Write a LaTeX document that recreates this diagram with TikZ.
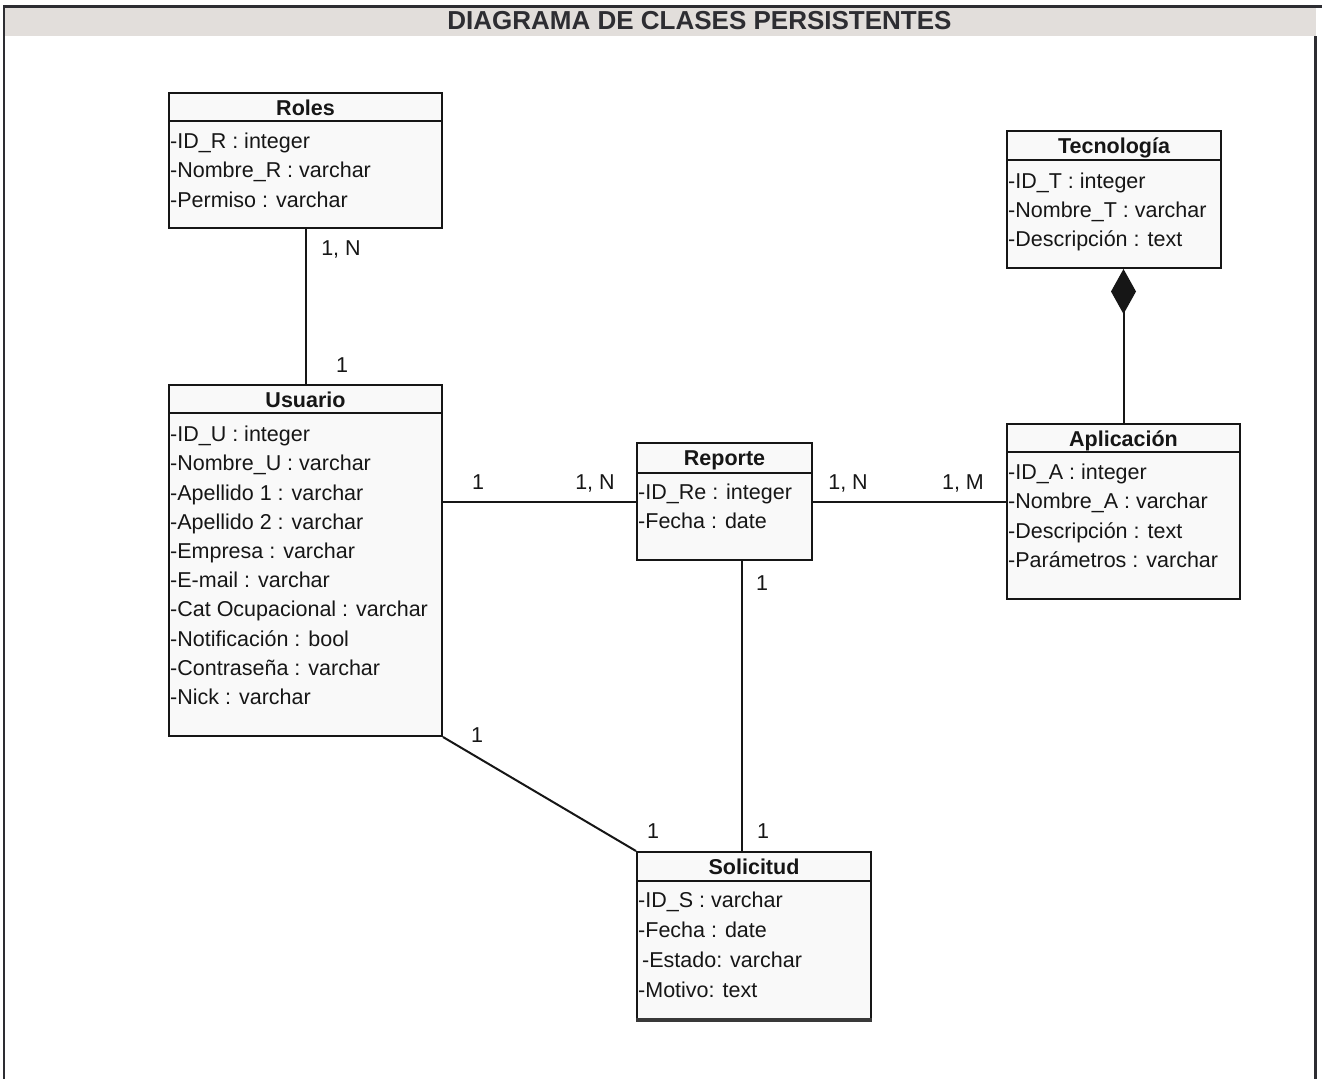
\documentclass[tikz,border=0pt]{standalone}
\usepackage{fontspec}
\setmainfont{Liberation Sans}
\usepackage{tikz}
\usetikzlibrary{arrows.meta}
\definecolor{framegray}{RGB}{45,45,50}
\definecolor{headgray}{RGB}{226,222,219}
\definecolor{boxfill}{RGB}{249,249,249}
\definecolor{inkgray}{RGB}{22,22,22}

\tikzset{
  classbox/.style={draw=inkgray, line width=2pt, fill=boxfill, anchor=north west, inner sep=0pt},
  classline/.style={draw=inkgray, line width=2pt},
  classname/.style={font=\fontsize{21.5}{21.5}\selectfont\bfseries, text=inkgray, anchor=base},
  attrs/.style={font=\fontsize{21.5}{29.2}\selectfont, text=inkgray, align=left, anchor=north west,
    inner sep=0pt, execute at begin node=\strut},
  mult/.style={font=\fontsize{21.5}{21.5}\selectfont, text=inkgray, anchor=base, inner sep=0pt},
  assoc/.style={draw=inkgray, line width=2pt},
}

\begin{document}
\begin{tikzpicture}[x=1pt, y=-1pt]
  \useasboundingbox (0,0) rectangle (1322,1079);
  % frame and heading band
  \fill[headgray] (5,7.5) rectangle (1316,36);
  \draw[framegray, line width=3pt] (3,6) -- (1322,6);
  \draw[framegray, line width=2.5pt] (4,6) -- (4,1079);
  \draw[framegray, line width=2.5pt] (1315.5,36) -- (1315.5,1079);
  \node[font=\fontsize{26}{26}\selectfont\bfseries, text=framegray, anchor=base] (title) at (699.5,29.5) {DIAGRAMA DE CLASES PERSISTENTES};

  % Roles
  \node[classbox, minimum width=273pt, minimum height=135pt] (roles) at (168,92) {};
  \draw[classline] ([yshift=-29pt]roles.north west) -- ([yshift=-29pt]roles.north east);
  \node[classname] (roles-name) at ([yshift=-23pt]roles.north) {Roles};
  \node[attrs] (roles-attrs) at ([xshift=2pt, yshift=-41pt]roles.north west)
    {-ID\_R : integer\\-Nombre\_R : varchar\\-Permiso : varchar};

  % Usuario
  \node[classbox, minimum width=273pt, minimum height=351pt] (usuario) at (168,384) {};
  \draw[classline] ([yshift=-29pt]usuario.north west) -- ([yshift=-29pt]usuario.north east);
  \node[classname] (usuario-name) at ([yshift=-23pt]usuario.north) {Usuario};
  \node[attrs] (usuario-attrs) at ([xshift=2pt, yshift=-42pt]usuario.north west)
    {-ID\_U : integer\\-Nombre\_U : varchar\\-Apellido 1 : varchar\\-Apellido 2 : varchar\\
     -Empresa : varchar\\-E-mail : varchar\\-Cat Ocupacional : varchar\\-Notificación : bool\\
     -Contraseña : varchar\\-Nick : varchar};

  % Reporte
  \node[classbox, minimum width=175pt, minimum height=117pt] (reporte) at (636,442) {};
  \draw[classline] ([yshift=-31pt]reporte.north west) -- ([yshift=-31pt]reporte.north east);
  \node[classname] (reporte-name) at ([yshift=-23pt]reporte.north) {Reporte};
  \node[attrs] (reporte-attrs) at ([xshift=2pt, yshift=-41.5pt]reporte.north west)
    {-ID\_Re : integer\\-Fecha : date};

  % Tecnologia
  \node[classbox, minimum width=214pt, minimum height=137pt] (tecnologia) at (1006,130) {};
  \draw[classline] ([yshift=-30pt]tecnologia.north west) -- ([yshift=-30pt]tecnologia.north east);
  \node[classname] (tecnologia-name) at ([yshift=-23pt]tecnologia.north) {Tecnología};
  \node[attrs] (tecnologia-attrs) at ([xshift=2pt, yshift=-42.5pt]tecnologia.north west)
    {-ID\_T : integer\\-Nombre\_T : varchar\\-Descripción : text};

  % Aplicacion
  \node[classbox, minimum width=233pt, minimum height=175pt] (aplicacion) at (1006,423) {};
  \draw[classline] ([yshift=-29pt]aplicacion.north west) -- ([yshift=-29pt]aplicacion.north east);
  \node[classname] (aplicacion-name) at ([yshift=-23pt]aplicacion.north) {Aplicación};
  \node[attrs] (aplicacion-attrs) at ([xshift=2pt, yshift=-41pt]aplicacion.north west)
    {-ID\_A : integer\\-Nombre\_A : varchar\\-Descripción : text\\-Parámetros : varchar};

  % Solicitud
  \node[classbox, minimum width=234pt, minimum height=167pt] (solicitud) at (636,851) {};
  \draw[line width=3.5pt, inkgray!85] (solicitud.south west) -- (solicitud.south east);
  \draw[classline] ([yshift=-30pt]solicitud.north west) -- ([yshift=-30pt]solicitud.north east);
  \node[classname] (solicitud-name) at ([yshift=-23pt]solicitud.north) {Solicitud};
  \node[attrs, font=\fontsize{21.5}{30}\selectfont] (solicitud-attrs) at ([xshift=2pt, yshift=-40.5pt]solicitud.north west)
    {-ID\_S : varchar\\-Fecha : date\\\hspace{4pt}-Estado: varchar\\-Motivo: text};

  % associations
  \draw[assoc] (roles.south) -- (usuario.north);
  \draw[assoc] (usuario.east |- reporte.west) -- (reporte.west);
  \draw[assoc] (reporte.east) -- (reporte.east -| aplicacion.west);
  \coordinate (rep-sol) at ([xshift=17.5pt]reporte.south);
  \draw[assoc] (rep-sol) -- (rep-sol |- solicitud.north);
  \draw[assoc] (usuario.south east) -- (solicitud.north west);
  % composition, diamond on the whole
  \draw[assoc, {Diamond[length=45pt, width=25pt]}-] (aplicacion.north |- tecnologia.south) -- (aplicacion.north);

  % multiplicities
  \node[mult] (m-roles) at (341,255) {1, N};
  \node[mult] (m-usr-roles) at (342,372) {1};
  \node[mult] (m-usr-rep) at (478,489) {1};
  \node[mult] (m-rep-usr) at (595,489) {1, N};
  \node[mult] (m-rep-apl) at (848,489) {1, N};
  \node[mult] (m-apl-rep) at (963,489) {1, M};
  \node[mult] (m-rep-sol) at (762,590) {1};
  \node[mult] (m-sol-rep) at (763,838) {1};
  \node[mult] (m-usr-sol) at (477,742) {1};
  \node[mult] (m-sol-usr) at (653,838) {1};
\end{tikzpicture}
\end{document}
